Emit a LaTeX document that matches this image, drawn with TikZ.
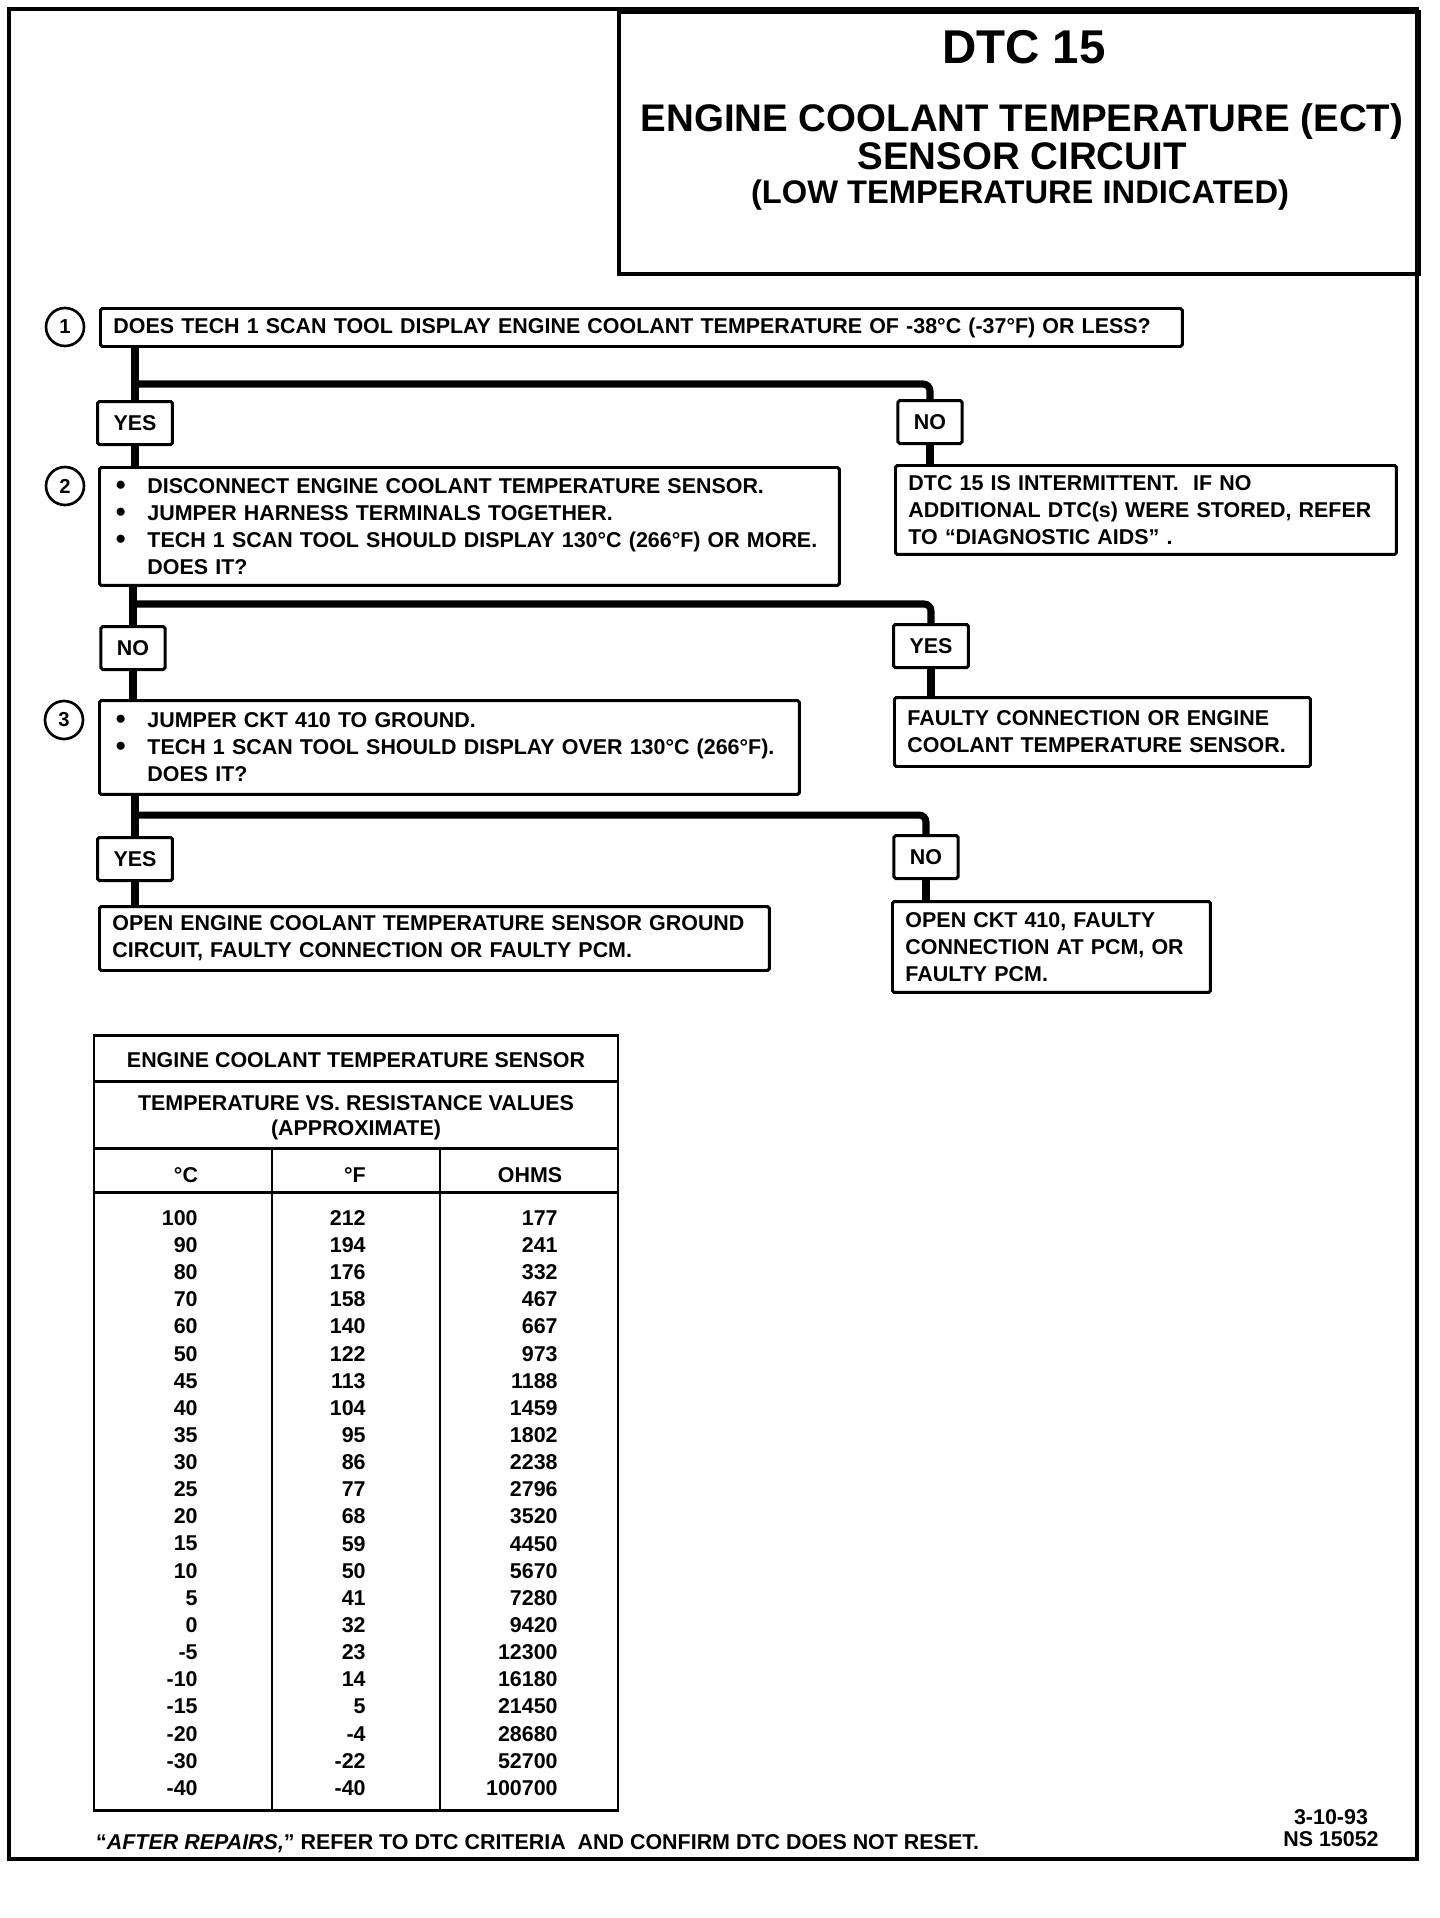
\documentclass[tikz,border=0pt]{standalone}
\usepackage{fontspec}
\setmainfont{Liberation Sans}
\usetikzlibrary{positioning,calc}
\tikzset{
  flow/.style={line width=4pt, rounded corners=4pt},
  stepbox/.style={draw, line width=1.7pt, rounded corners=1pt, anchor=north west, align=left, inner xsep=0.26cm, inner ysep=0pt, text width=#1},
  answer/.style={draw, line width=1.7pt, rounded corners=1pt, inner xsep=0.32cm, inner ysep=0pt, minimum height=0.86cm},
  stepnum/.style={draw, circle, line width=1.5pt, minimum size=0.76cm, inner sep=0pt, font=\fontsize{11.5}{11.5}\selectfont\bfseries},
  cell/.style={inner sep=0pt},
  grid/.style={line width=1.7pt}
}
\newcommand{\bul}{\makebox[0.7cm][l]{\hspace{0.07cm}\raisebox{-0.04em}{\fontsize{16}{16}\selectfont\textbullet}}}

\begin{document}
\begin{tikzpicture}[x=0.02cm, y=-0.02cm, font=\fontsize{12.2}{15.4}\selectfont\bfseries]
  \useasboundingbox (0,0) rectangle (1440,1918);

  % Page frame and title block.
  \draw[line width=2.5pt] (9,9) rectangle (1417,1859);
  \node[draw, line width=2.5pt, anchor=north west, minimum width=16.0cm, minimum height=5.24cm] (titlebox) at (617,10) {};
  \node[font=\fontsize{27}{27}\selectfont\bfseries] (dtc) at (1024,47) {DTC 15};
  \node[font=\fontsize{21.9}{21.9}\selectfont\bfseries] (ecttitle) at (1022,122) {ENGINE COOLANT TEMPERATURE (ECT)};
  \node[font=\fontsize{21.9}{21.9}\selectfont\bfseries] (circtitle) at (1022,156) {SENSOR CIRCUIT};
  \node[font=\fontsize{18.6}{18.6}\selectfont\bfseries] (lowtitle) at (1020,195) {(LOW TEMPERATURE INDICATED)};

  % Step 1.
  \node[stepnum] (num1) at (65,327) {1};
  \node[stepbox=21.12cm, minimum height=0.76cm] (check1) at (99,307) {DOES TECH 1 SCAN TOOL DISPLAY ENGINE COOLANT TEMPERATURE OF -38°C (-37°F) OR LESS?};
  \node[answer] (yes1) at (135,423) {YES};
  \node[answer] (no1) at (930,422) {NO};
  \coordinate (fork1) at (135,384);

  % Step 2.
  \node[stepnum] (num2) at (65,486) {2};
  \node[stepbox=14.28cm, minimum height=2.36cm] (check2) at (98,466) {\bul DISCONNECT ENGINE COOLANT TEMPERATURE SENSOR.\\ \bul JUMPER HARNESS TERMINALS TOGETHER.\\ \bul TECH 1 SCAN TOOL SHOULD DISPLAY 130°C (266°F) OR MORE.\\ \hspace*{0.7cm}DOES IT?};
  \node[stepbox=9.50cm, minimum height=1.78cm] (intermit) at (894,464) {DTC 15 IS INTERMITTENT.\ \ IF NO\\ADDITIONAL DTC(s) WERE STORED, REFER\\TO “DIAGNOSTIC AIDS” .};
  \node[answer] (no2) at (133,648) {NO};
  \node[answer] (yes2) at (931,646) {YES};
  \coordinate (fork2) at (133,604);

  % Step 3.
  \node[stepnum] (num3) at (64,720) {3};
  \node[stepbox=13.48cm, minimum height=1.88cm] (check3) at (98,699) {\bul JUMPER CKT 410 TO GROUND.\\ \bul TECH 1 SCAN TOOL SHOULD DISPLAY OVER 130°C (266°F).\\ \hspace*{0.7cm}DOES IT?};
  \node[stepbox=7.80cm, minimum height=1.38cm] (faultyecs) at (893,696) {FAULTY CONNECTION OR ENGINE\\COOLANT TEMPERATURE SENSOR.};
  \node[answer] (yes3) at (135,859) {YES};
  \node[answer] (no3) at (926,857) {NO};
  \coordinate (fork3) at (135,815);

  % Results.
  \node[stepbox=12.88cm, minimum height=1.28cm] (opengnd) at (98,905) {OPEN ENGINE COOLANT TEMPERATURE SENSOR GROUND\\CIRCUIT, FAULTY CONNECTION OR FAULTY PCM.};
  \node[stepbox=5.84cm, minimum height=1.82cm] (openckt) at (891,900) {OPEN CKT 410, FAULTY\\CONNECTION AT PCM, OR\\FAULTY PCM.};

  % Branch lines.
  \draw[flow] (check1.south -| yes1) -- (yes1.north);
  \draw[flow] (fork1) -| (no1.north);
  \draw[flow] (yes1.south) -- (yes1.south |- check2.north);
  \draw[flow] (no1.south) -- (no1.south |- intermit.north);
  \draw[flow] (check2.south -| no2) -- (no2.north);
  \draw[flow] (fork2) -| (yes2.north);
  \draw[flow] (no2.south) -- (no2.south |- check3.north);
  \draw[flow] (yes2.south) -- (yes2.south |- faultyecs.north);
  \draw[flow] (check3.south -| yes3) -- (yes3.north);
  \draw[flow] (fork3) -| (no3.north);
  \draw[flow] (yes3.south) -- (yes3.south |- opengnd.north);
  \draw[flow] (no3.south) -- (no3.south |- openckt.north);

  % Resistance table.
  \draw[grid] (94,1035) rectangle (618,1810);
  \draw[grid] (94,1081) -- (618,1081);
  \draw[grid] (94,1148) -- (618,1148);
  \draw[grid] (94,1192) -- (618,1192);
  \draw[grid] (272,1148) -- (272,1810);
  \draw[grid] (440,1148) -- (440,1810);
  \node[cell] (tabtitle) at (356,1060) {ENGINE COOLANT TEMPERATURE SENSOR};
  \node[cell, align=center, font=\fontsize{12.2}{14.2}\selectfont\bfseries] (tabsub) at (356,1118) {TEMPERATURE VS. RESISTANCE VALUES\\(APPROXIMATE)};
  \node[cell] (hdc) at (186,1175) {°C};
  \node[cell] (hdf) at (355,1175) {°F};
  \node[cell] (hdohm) at (530,1175) {OHMS};
  \foreach \degc/\degf/\res [count=\i from 0] in {100/212/177, 90/194/241, 80/176/332, 70/158/467, 60/140/667, 50/122/973, 45/113/1188, 40/104/1459, 35/95/1802, 30/86/2238, 25/77/2796, 20/68/3520, 15/59/4450, 10/50/5670, 5/41/7280, 0/32/9420, -5/23/12300, -10/14/16180, -15/5/21450, -20/-4/28680, -30/-22/52700, -40/-40/100700} {
    \node[cell, anchor=east] (tc\i) at (198,{1218+27.14*\i}) {\degc};
    \node[cell, anchor=east] (tf\i) at (366,{1218+27.14*\i}) {\degf};
    \node[cell, anchor=east] (tr\i) at (558,{1218+27.14*\i}) {\res};
  }

  % Footer.
  \node[anchor=west] (afterrep) at (90,1844) {“\textit{AFTER REPAIRS,}” REFER TO DTC CRITERIA\ \ AND CONFIRM DTC DOES NOT RESET.};
  \node[align=center, font=\fontsize{12.2}{12.6}\selectfont\bfseries] (docid) at (1331,1828) {3-10-93\\NS 15052};
\end{tikzpicture}
\end{document}
